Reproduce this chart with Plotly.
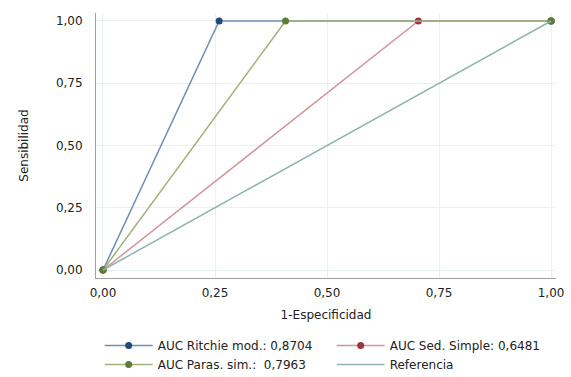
import plotly.graph_objects as go

ritchie_x = [0, 0.2592, 1]
ritchie_y = [0, 1, 1]
sed_x = [0, 0.7038, 1]
sed_y = [0, 1, 1]
paras_x = [0, 0.4074, 1]
paras_y = [0, 1, 1]
ref_x = [0, 1]
ref_y = [0, 1]
ticks = [0, 0.25, 0.5, 0.75, 1]

fig = go.Figure()
fig.add_trace(go.Scatter(x=ritchie_x, y=ritchie_y, mode="lines+markers",
                         name="AUC Ritchie mod.: 0,8704",
                         line=dict(color="#6f8db5", width=1.5),
                         marker=dict(color="#23497a", size=7)))
fig.add_trace(go.Scatter(x=sed_x, y=sed_y, mode="lines+markers",
                         name="AUC Sed. Simple: 0,6481",
                         line=dict(color="#d3959c", width=1.5),
                         marker=dict(color="#9e3344", size=7)))
fig.add_trace(go.Scatter(x=paras_x, y=paras_y, mode="lines+markers",
                         name="AUC Paras. sim.:  0,7963",
                         line=dict(color="#9fb278", width=1.5),
                         marker=dict(color="#5b7d34", size=7)))
fig.add_trace(go.Scatter(x=ref_x, y=ref_y, mode="lines",
                         name="Referencia",
                         line=dict(color="#8db4b0", width=1.5)))

axis_common = dict(tickvals=ticks, tickformat=".2f", showgrid=True,
                   gridcolor="#eaf1f1", zeroline=False, showline=True,
                   linecolor="#a0a0a0", linewidth=1, ticks="",
                   tickfont=dict(size=12, color="#222"), automargin=False)
fig.update_xaxes(range=[-0.0156, 1.011], ticklabelstandoff=4,
                 title=dict(text="1-Especificidad", font=dict(size=12, color="#222"), standoff=11),
                 **axis_common)
fig.update_yaxes(range=[-0.032, 1.032], ticklabelstandoff=10,
                 title=dict(text="Sensibilidad", font=dict(size=12, color="#222"), standoff=24),
                 **axis_common)

fig.update_layout(
    width=571, height=377,
    margin=dict(l=96, r=15, t=13, b=99, autoexpand=False),
    plot_bgcolor="white", paper_bgcolor="white",
    font=dict(family="DejaVu Sans, Verdana, sans-serif", size=12, color="#222"),
    separators=",.",
    showlegend=True,
    hovermode=False,
    legend=dict(orientation="h", x=0.008, y=-0.2, xanchor="left", yanchor="top",
                entrywidth=169, entrywidthmode="pixels", itemwidth=48,
                font=dict(size=12), tracegroupgap=0),
)
fig.write_html("out.html", config={"displayModeBar": False},
               post_script="document.body.style.margin='0px';")
